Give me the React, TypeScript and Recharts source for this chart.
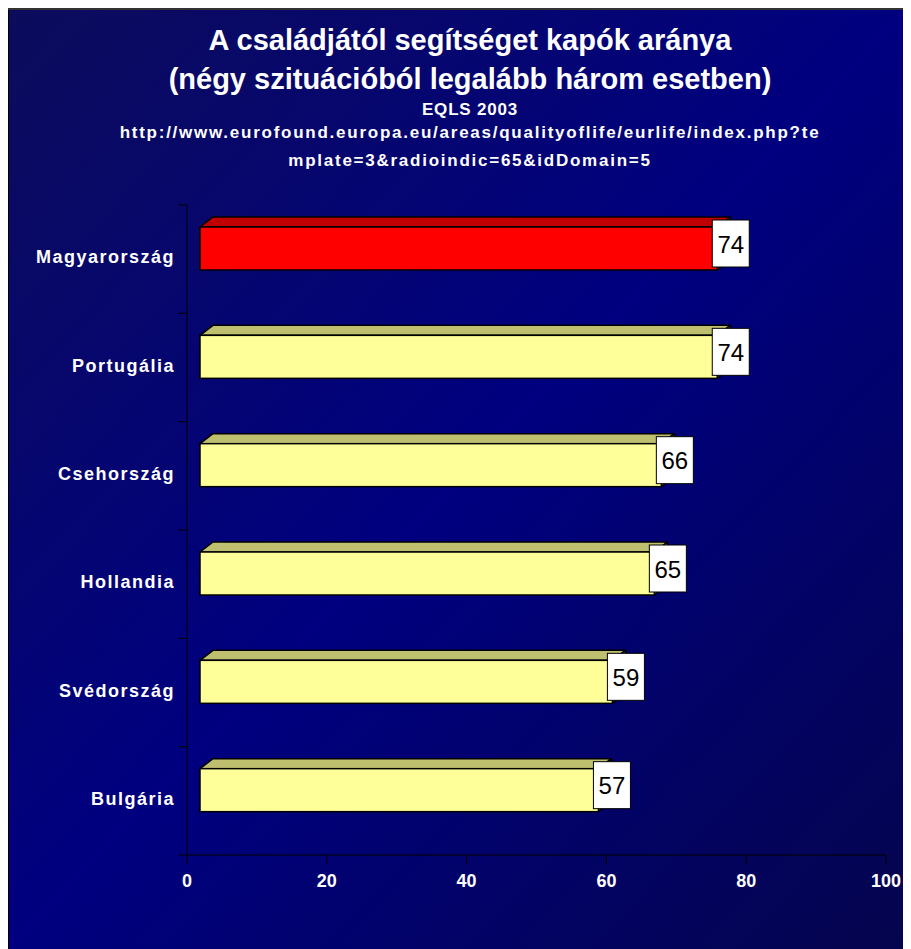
import React from 'react';
import { BarChart, Bar, XAxis, YAxis, LabelList } from 'recharts';

const categories = ['Magyarország', 'Portugália', 'Csehország', 'Hollandia', 'Svédország', 'Bulgária'];
const values = [74, 74, 66, 65, 59, 57];
const xTicks = [0, 20, 40, 60, 80, 100];
const highlighted = 'Magyarország';

const titleLines = [
  'A családjától segítséget kapók aránya',
  '(négy szituációból legalább három esetben)',
];
const subtitle = 'EQLS 2003';
const sourceLines = [
  'http://www.eurofound.europa.eu/areas/qualityoflife/eurlife/index.php?te',
  'mplate=3&radioindic=65&idDomain=5',
];

const data = categories.map((name, i) => ({ name, value: values[i] }));

const FONT = '"Liberation Sans", Arial, Helvetica, sans-serif';
const W = 903;
const H = 941;
const PLOT_TOP = 197;
const PLOT_H = 650;
const BAND = PLOT_H / categories.length;

// 3D look: front face pushed right, top face going back up-right
const SHIFT_X = 13;
const SHIFT_Y = -11;
const DEPTH_X = 13;
const DEPTH_Y = 10;

function Bar3D(props: any) {
  const { x, y, width, height, payload } = props;
  const hot = payload && payload.name === highlighted;
  const front = hot ? '#ff0000' : '#ffff99';
  const top = hot ? '#c00000' : '#bfbf70';
  const side = hot ? '#700000' : '#6b6b30';
  const fx = x + SHIFT_X;
  const fy = y + SHIFT_Y;
  const ex = fx + width;
  return (
    <g>
      <polygon
        points={`${fx},${fy} ${ex},${fy} ${ex + DEPTH_X},${fy - DEPTH_Y} ${fx + DEPTH_X},${fy - DEPTH_Y}`}
        fill={top}
        stroke="#000"
        strokeWidth={1.5}
        strokeLinejoin="round"
      />
      <polygon
        points={`${ex},${fy} ${ex + DEPTH_X},${fy - DEPTH_Y} ${ex + DEPTH_X},${fy + height - DEPTH_Y} ${ex},${fy + height}`}
        fill={side}
        stroke="#000"
        strokeWidth={1.5}
        strokeLinejoin="round"
      />
      <rect x={fx} y={fy} width={width} height={height} fill={front} stroke="#000" strokeWidth={1.5} />
    </g>
  );
}

function ValueBox(props: any) {
  const { x, y, width, value } = props;
  const bx = x + SHIFT_X + width - 5;
  const by = y + SHIFT_Y - 7;
  return (
    <g>
      <rect x={bx} y={by} width={37} height={47} fill="#fff" stroke="#000" strokeWidth={1} />
      <text
        x={bx + 18.5}
        y={by + 24}
        textAnchor="middle"
        dominantBaseline="central"
        fontFamily={FONT}
        fontSize={24}
        fill="#000"
      >
        {value}
      </text>
    </g>
  );
}

function CategoryTick(props: any) {
  const { x, y, payload, index } = props;
  const last = index === categories.length - 1;
  return (
    <g>
      <line x1={x - 9} x2={x} y1={y - BAND / 2} y2={y - BAND / 2} stroke="#000" strokeWidth={1} />
      {last && <line x1={x - 9} x2={x} y1={y + BAND / 2} y2={y + BAND / 2} stroke="#000" strokeWidth={1} />}
      <text
        x={x - 12}
        y={y - 2}
        textAnchor="end"
        dominantBaseline="central"
        fontFamily={FONT}
        fontSize={18}
        fontWeight="bold"
        letterSpacing={1.5}
        fill="#fff"
      >
        {payload.value}
      </text>
    </g>
  );
}

export default function App() {
  return (
    <div
      style={{
        position: 'relative',
        width: W,
        height: H,
        background: 'linear-gradient(to bottom right, #0c0c5c 0%, #000080 50%, #05054e 100%)',
        boxShadow: 'inset 0 2px 0 #333, inset 1px 0 0 #000',
        fontFamily: FONT,
      }}
    >
      <svg width={W} height={190} style={{ position: 'absolute', left: 0, top: 0 }}>
        <text x={462} y={42} textAnchor="middle" fontFamily={FONT} fontSize={29} fontWeight="bold" fill="#fff">
          {titleLines[0]}
        </text>
        <text x={462} y={81} textAnchor="middle" fontFamily={FONT} fontSize={29} fontWeight="bold" fill="#fff">
          {titleLines[1]}
        </text>
        <text x={462} y={107} textAnchor="middle" fontFamily={FONT} fontSize={17} fontWeight="bold" letterSpacing={0.8} fill="#fff">
          {subtitle}
        </text>
        {sourceLines.map((line, i) => (
          <text
            key={line}
            x={462}
            y={130 + i * 28}
            textAnchor="middle"
            fontFamily={FONT}
            fontSize={17}
            fontWeight="bold"
            letterSpacing={1.75}
            fill="#fff"
          >
            {line}
          </text>
        ))}
      </svg>
      <BarChart
        width={W}
        height={H}
        data={data}
        layout="vertical"
        margin={{ top: PLOT_TOP, right: 25, bottom: 54, left: 0 }}
        style={{ position: 'absolute', left: 0, top: 0 }}
      >
        <XAxis
          type="number"
          domain={[0, 100]}
          ticks={xTicks}
          height={40}
          axisLine={{ stroke: '#000', strokeWidth: 1 }}
          tickLine={{ stroke: '#000', strokeWidth: 1 }}
          tickSize={9}
          tickMargin={10}
          tick={{ fill: '#fff', fontSize: 18, fontWeight: 'bold', fontFamily: FONT }}
        />
        <YAxis
          type="category"
          dataKey="name"
          width={179}
          axisLine={{ stroke: '#000', strokeWidth: 1 }}
          tickLine={false}
          tickSize={0}
          tickMargin={0}
          tick={<CategoryTick />}
        />
        <Bar dataKey="value" barSize={43} shape={<Bar3D />} isAnimationActive={false}>
          <LabelList dataKey="value" content={<ValueBox />} />
        </Bar>
      </BarChart>
    </div>
  );
}
